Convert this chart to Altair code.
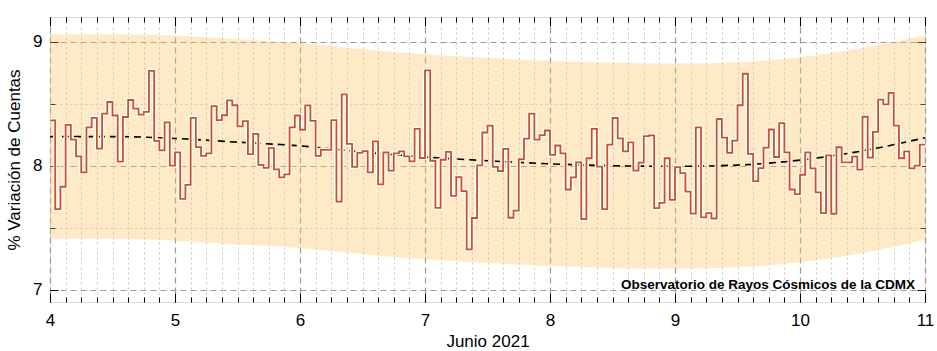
import altair as alt
import pandas as pd

# Hourly % variation of counts, 4-11 June 2021 (24 values per day)
day4 = [8.365, 7.65, 7.83, 8.33, 8.21, 8.076, 7.946, 8.31, 8.386, 8.137, 8.42, 8.514,
        8.405, 8.033, 8.393, 8.53, 8.46, 8.412, 8.435, 8.765, 8.2, 8.123, 8.35, 8.0]
day5 = [8.108, 7.733, 7.846, 8.386, 8.15, 8.08, 8.1, 8.48, 8.367, 8.407, 8.527, 8.488,
        8.318, 8.36, 8.093, 8.257, 8.007, 7.983, 8.141, 7.97, 7.905, 7.93, 8.31, 8.405]
day6 = [8.29, 8.486, 8.362, 8.08, 8.127, 8.127, 8.367, 7.71, 8.576, 8.176, 7.99, 8.104,
        8.118, 7.946, 8.196, 7.85, 8.108, 7.96, 8.1, 8.116, 8.075, 8.035, 8.297, 8.062]
day7 = [8.77, 8.04, 7.66, 8.048, 8.112, 7.757, 7.908, 7.794, 7.324, 7.578, 8.003, 8.268,
        8.324, 7.99, 7.957, 8.135, 7.58, 7.638, 8.052, 8.218, 8.42, 8.21, 8.247, 8.284]
day8 = [8.088, 8.163, 8.1, 7.808, 7.905, 8.027, 7.57, 8.06, 8.297, 7.992, 7.65, 8.17,
        8.385, 8.221, 8.116, 8.188, 7.96, 8.024, 8.239, 8.244, 7.658, 7.70, 8.06, 7.724]
day9 = [7.988, 7.94, 7.79, 7.613, 8.31, 7.583, 7.618, 7.574, 8.377, 8.227, 8.103, 8.203,
        8.488, 8.742, 8.095, 7.875, 7.98, 8.146, 8.292, 8.07, 8.343, 8.108, 7.808, 7.77]
day10 = [7.927, 8.108, 7.979, 7.784, 7.618, 8.083, 7.612, 8.149, 8.027, 8.027, 8.073, 7.968,
         8.395, 8.065, 8.273, 8.533, 8.495, 8.588, 8.324, 8.06, 8.116, 7.978, 8.0, 8.17]
first_day = 4
last_day = 11

# Trend curve and its band
trend_x = [4, 4.5, 5, 5.5, 6, 6.5, 7, 7.5, 8, 8.5, 9, 9.5, 10, 10.5, 11]
trend_y = [8.235, 8.235, 8.22, 8.19, 8.16, 8.11, 8.07, 8.04, 8.015, 8.0, 7.995, 8.005, 8.045, 8.12, 8.225]
band_upper = [9.06, 9.06, 9.05, 9.02, 8.99, 8.94, 8.90, 8.87, 8.845, 8.83, 8.825, 8.835, 8.875, 8.95, 9.05]
band_lower = [7.41, 7.41, 7.395, 7.365, 7.335, 7.285, 7.245, 7.215, 7.19, 7.175, 7.17, 7.18, 7.22, 7.295, 7.40]

major_x = [4, 5, 6, 7, 8, 9, 10, 11]
minor_x = [4 + k / 8 for k in range(57) if k % 8 != 0]
all_x = [4 + k / 8 for k in range(57)]
major_y = [7, 8, 9]
minor_y = [7.5, 8.5]
all_y = [7, 7.5, 8, 8.5, 9]

label_text = "Observatorio de Rayos Cósmicos de la CDMX"
x_title = "Junio 2021"
y_title = "% Variación de Cuentas"

hourly = day4 + day5 + day6 + day7 + day8 + day9 + day10
line_df = pd.DataFrame({
    "x": [first_day + i / 24 for i in range(len(hourly))] + [last_day],
    "y": hourly + [hourly[-1]],
})
trend_df = pd.DataFrame({"x": trend_x, "y": trend_y, "lo": band_lower, "hi": band_upper})
text_df = pd.DataFrame({"x": [last_day], "y": [7], "t": [label_text]})

FONT = "Arial, Liberation Sans, sans-serif"
XS = alt.Scale(domain=[4, 11], nice=False, zero=False)
YS = alt.Scale(domain=[6.9, 9.2], nice=False, zero=False)


def tick_axis(orient, values, size):
    return alt.Axis(orient=orient, values=values, offset=-size, tickSize=size,
                    tickColor="black", tickWidth=1, labels=False, domain=False,
                    grid=False)


def grid_axis(orient, values, color, dash, width):
    return alt.Axis(orient=orient, values=values, grid=True, gridColor=color,
                    gridDash=dash, gridWidth=width, ticks=False, labels=False,
                    domain=False)


band = alt.Chart(trend_df).mark_area(color="#fbc25a", opacity=0.34, interpolate="monotone").encode(
    x=alt.X("x:Q", scale=XS, title=None, axis=grid_axis("bottom", minor_x, "#c8c8c8", [2, 3], 1)),
    y=alt.Y("lo:Q", scale=YS, title=None, axis=grid_axis("left", minor_y, "#c8c8c8", [2, 3], 1)),
    y2="hi:Q",
)

trend = alt.Chart(trend_df).mark_line(color="black", strokeDash=[7, 5], strokeWidth=1.6,
                                      interpolate="monotone").encode(
    x=alt.X("x:Q", scale=XS, title=x_title,
            axis=alt.Axis(orient="bottom", values=major_x, grid=True, gridColor="#9a9a9a",
                          gridDash=[6, 4], gridWidth=1.2, ticks=False, domain=False,
                          format="d", labelFlush=False, labelFontSize=17, labelFont=FONT,
                          labelColor="black", labelPadding=10, titleFontSize=17,
                          titleFont=FONT, titleFontWeight="normal", titleColor="black",
                          titlePadding=5)),
    y=alt.Y("y:Q", scale=YS, title=y_title,
            axis=alt.Axis(orient="left", values=major_y, grid=True, gridColor="#9a9a9a",
                          gridDash=[6, 4], gridWidth=1.2, ticks=False, domain=False,
                          format="d", labelFontSize=17, labelFont=FONT, labelColor="black",
                          labelPadding=8, titleFontSize=17, titleFont=FONT,
                          titleFontWeight="normal", titleColor="black", titlePadding=9)),
)

halo = alt.Chart(line_df).mark_line(color="white", strokeWidth=4.2, interpolate="step-after").encode(
    x=alt.X("x:Q", scale=XS, title=None, axis=tick_axis("bottom", all_x, 5)),
    y=alt.Y("y:Q", scale=YS, title=None, axis=tick_axis("left", all_y, 5)),
)

line = alt.Chart(line_df).mark_line(color="#c8502a", strokeWidth=1.8, interpolate="step-after").encode(
    x=alt.X("x:Q", scale=XS, title=None, axis=tick_axis("bottom", major_x, 9)),
    y=alt.Y("y:Q", scale=YS, title=None, axis=tick_axis("left", major_y, 8)),
)

text = alt.Chart(text_df).mark_text(align="right", baseline="middle", dx=-10, dy=-5,
                                    fontSize=13.5, fontWeight="bold", font=FONT,
                                    color="black").encode(
    x=alt.X("x:Q", scale=XS, title=None, axis=tick_axis("top", all_x, 5)),
    y=alt.Y("y:Q", scale=YS, title=None, axis=tick_axis("right", all_y, 5)),
    text="t:N",
)

ghost = alt.Chart(trend_df).mark_line(opacity=0).encode(
    x=alt.X("x:Q", scale=XS, title=None, axis=tick_axis("top", major_x, 9)),
    y=alt.Y("y:Q", scale=YS, title=None, axis=tick_axis("right", major_y, 8)),
)

chart = alt.layer(band, trend, halo, line, text, ghost).resolve_axis(
    x="independent", y="independent"
).properties(
    width=875, height=285,
    autosize=alt.AutoSizeParams(type="none"),
    padding={"left": 50, "top": 17, "right": 12, "bottom": 49},
).configure_view(stroke="black", strokeWidth=1.5).configure(background="white")

chart.save("out.html", embed_options={"renderer": "svg", "actions": False})
